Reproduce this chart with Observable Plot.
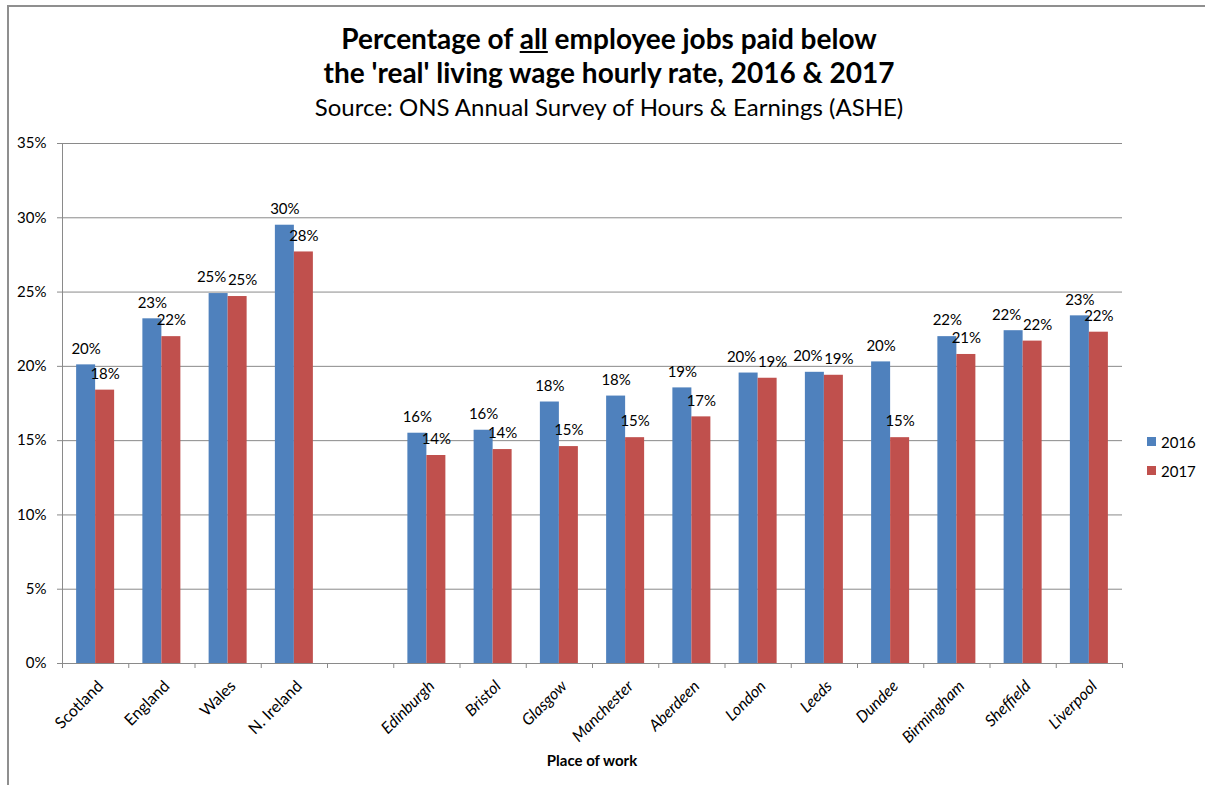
<!DOCTYPE html>
<html>
<head>
<meta charset="utf-8">
<script src="https://cdn.jsdelivr.net/npm/d3@7"></script>
<script src="https://cdn.jsdelivr.net/npm/@observablehq/plot@0.6"></script>
<style>
  body { margin: 0; background: #fff; font-family: Lato, "Open Sans", sans-serif; color: #000; }
  #wrap { position: relative; width: 1205px; height: 785px; overflow: hidden; background: #fff; }
  #frame { position: absolute; left: 7px; top: 5px; right: -4px; bottom: -4px; border-top: 2px solid #8f8f8f; border-left: 2px solid #8f8f8f; z-index: 5; pointer-events: none; }
  .t { position: absolute; left: 0; width: 1218px; text-align: center; white-space: nowrap; }
  #t1 { top: 21px; font-size: 28px; font-weight: 700; }
  #t2 { top: 55px; font-size: 28px; font-weight: 700; }
  #t3 { top: 92px; font-size: 24px; font-weight: 400; }
  #chart { position: absolute; left: 0; top: 130px; }
  #chart svg text { fill: #000; }
  #xlabel { position: absolute; left: 0; width: 1184px; top: 751px; text-align: center; font-size: 15px; font-weight: 700; }
  #legend { position: absolute; left: 1147px; top: 427px; font-size: 15px; }
  .li { display: flex; align-items: center; height: 29px; }
  .sw { width: 9px; height: 9px; margin-right: 5px; }
</style>
</head>
<body>
<div id="wrap">
  <div id="frame"></div>
  <div class="t" id="t1">Percentage of <u>all</u> employee jobs paid below</div>
  <div class="t" id="t2">the 'real' living wage hourly rate, 2016 &amp; 2017</div>
  <div class="t" id="t3">Source: ONS Annual Survey of Hours &amp; Earnings (ASHE)</div>
  <div id="chart"></div>
  <div id="xlabel">Place of work</div>
  <div id="legend"></div>
</div>
<script>
// ---- data ----
const countries = ["Scotland", "England", "Wales", "N. Ireland"];
const cities = ["Edinburgh", "Bristol", "Glasgow", "Manchester", "Aberdeen", "London", "Leeds", "Dundee", "Birmingham", "Sheffield", "Liverpool"];
const places = [...countries, ...cities];
const gapSlot = " ";
const slots = [...countries, gapSlot, ...cities];
const values2016 = [20.1, 23.2, 24.9, 29.5, 15.5, 15.7, 17.6, 18.0, 18.55, 19.55, 19.6, 20.3, 22.0, 22.4, 23.4];
const values2017 = [18.4, 22.0, 24.7, 27.7, 14.0, 14.4, 14.6, 15.2, 16.6, 19.2, 19.4, 15.2, 20.8, 21.7, 22.3];
const seriesNames = ["2016", "2017"];
const seriesColors = ["#4F81BD", "#C0504D"];
const yTicks = [0, 5, 10, 15, 20, 25, 30, 35];
const xTitle = "Place of work";

// ---- build rows ----
const rows2016 = places.map((p, i) => ({place: p, value: values2016[i], other: values2017[i], series: "2016"}));
const rows2017 = places.map((p, i) => ({place: p, value: values2017[i], other: values2016[i], series: "2017"}));
// labels of nearly equal bars are pushed apart a little, as the spreadsheet does
const close = d => Math.abs(d.value - d.other) < 0.8;
const label = d => Math.round(d.value) + "%";

const W = 1205, H = 610;
const mL = 62, mR = 83, mT = 13, mB = 77;
const bw = (W - mL - mR) / slots.length;
const barW = 19;
const gridColor = "#8a8a8a";
const labelStyle = {x: "place", y: "value", text: label, dy: -16, fill: "#000", fontSize: 15};
const catStyle = {x: d => d, y: () => 0, text: d => d, rotate: -45, textAnchor: "end", dx: 5, dy: 20, fill: "#000", fontSize: 16};

const plot = Plot.plot({
  width: W,
  height: H,
  marginLeft: mL,
  marginRight: mR,
  marginTop: mT,
  marginBottom: mB,
  style: {color: gridColor, background: "transparent", fontFamily: "Lato, sans-serif", fontSize: "15px", overflow: "visible"},
  x: {type: "band", domain: slots, padding: 0, round: false, axis: null},
  y: {domain: [0, 35], ticks: yTicks, tickFormat: d => d + "%", tickSize: 5, tickPadding: 11, label: null, line: true},
  marks: [
    Plot.ruleY(yTicks, {stroke: gridColor, strokeWidth: 1}),
    Plot.barY(rows2016, {x: "place", y: "value", fill: seriesColors[0], insetLeft: bw / 2 - barW, insetRight: bw / 2}),
    Plot.barY(rows2017, {x: "place", y: "value", fill: seriesColors[1], insetLeft: bw / 2, insetRight: bw / 2 - barW}),
    Plot.text(rows2016.filter(d => !close(d)), {...labelStyle, dx: -barW / 2}),
    Plot.text(rows2016.filter(close), {...labelStyle, dx: -barW / 2 - 7}),
    Plot.text(rows2017.filter(d => !close(d)), {...labelStyle, dx: barW / 2}),
    Plot.text(rows2017.filter(close), {...labelStyle, dx: barW / 2 + 5}),
    Plot.ruleX(slots, {x: d => d, y1: 0, y2: 0, dx: -bw / 2, insetBottom: -5, stroke: gridColor}),
    Plot.ruleX(slots.slice(-1), {x: d => d, y1: 0, y2: 0, dx: bw / 2, insetBottom: -5, stroke: gridColor}),
    Plot.text(countries, catStyle),
    Plot.text(cities, {...catStyle, fontStyle: "italic"})
  ]
});
document.getElementById("chart").appendChild(plot);

document.getElementById("xlabel").textContent = xTitle;
const legend = document.getElementById("legend");
seriesNames.forEach((s, i) => {
  const row = document.createElement("div");
  row.className = "li";
  const sw = document.createElement("div");
  sw.className = "sw";
  sw.style.background = seriesColors[i];
  const lab = document.createElement("span");
  lab.textContent = s;
  row.appendChild(sw);
  row.appendChild(lab);
  legend.appendChild(row);
});
</script>
</body>
</html>
